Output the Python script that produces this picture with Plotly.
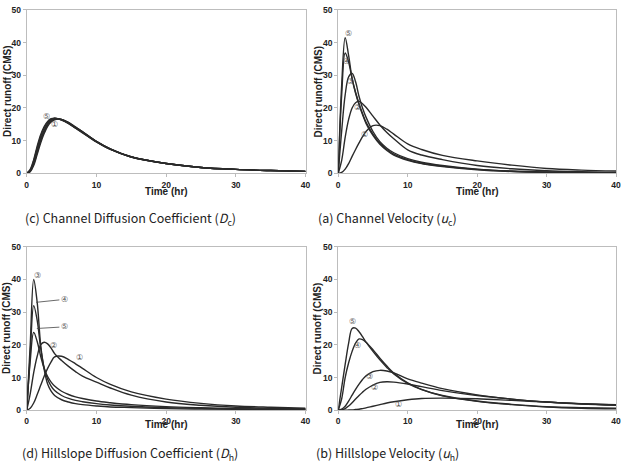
import plotly.graph_objects as go

time_hr = [0, 0.5, 1, 1.5, 2, 2.5, 3, 3.5, 4, 5, 6, 7, 8, 10, 12, 15, 20, 25, 30, 35, 40]

# (c) Channel Diffusion Coefficient
c_1 = [0, 0.5, 2.4, 5.8, 9.3, 12.2, 14.4, 15.7, 16.4, 16.5, 15.6, 14.2, 12.8, 9.8, 7.5, 5.1, 3.0, 1.8, 1.2, 0.85, 0.6]
c_2 = [0, 0.6, 2.8, 6.4, 9.9, 12.7, 14.8, 16.0, 16.6, 16.5, 15.5, 14.1, 12.7, 9.8, 7.5, 5.0, 3.0, 1.8, 1.2, 0.85, 0.6]
c_3 = [0, 0.8, 3.2, 7.0, 10.5, 13.2, 15.2, 16.3, 16.8, 16.4, 15.4, 14.0, 12.6, 9.7, 7.4, 5.0, 3.0, 1.8, 1.2, 0.85, 0.6]
c_4 = [0, 1.0, 3.8, 7.8, 11.3, 13.9, 15.6, 16.5, 16.9, 16.4, 15.3, 13.9, 12.5, 9.6, 7.3, 5.0, 3.0, 1.8, 1.2, 0.85, 0.6]
c_5 = [0, 1.2, 4.2, 8.3, 11.8, 14.3, 15.9, 16.7, 16.9, 16.3, 15.2, 13.8, 12.4, 9.6, 7.3, 5.0, 3.0, 1.8, 1.2, 0.85, 0.6]

# (a) Channel Velocity
a_1 = [0, 0.3, 1.3, 3.0, 5.2, 7.3, 9.3, 11.2, 12.8, 14.6, 14.6, 13.5, 12.0, 9.0, 7.3, 5.5, 3.8, 2.5, 1.5, 1.0, 0.7]
a_2 = [0, 4.0, 11.0, 16.5, 20.0, 21.6, 22.0, 21.3, 20.2, 17.5, 14.8, 12.5, 10.6, 7.2, 5.6, 4.2, 2.4, 1.4, 0.8, 0.5, 0.3]
a_3 = [0, 13.0, 24.0, 29.5, 30.6, 28.0, 23.5, 20.0, 17.2, 12.8, 9.7, 7.7, 6.3, 4.5, 3.4, 2.4, 1.3, 0.7, 0.4, 0.25, 0.15]
a_4 = [0, 24.0, 36.8, 34.0, 29.0, 24.8, 21.3, 18.3, 15.7, 12.0, 9.2, 7.3, 5.9, 4.2, 3.1, 2.2, 1.2, 0.6, 0.35, 0.2, 0.1]
a_5 = [0, 27.0, 41.5, 36.0, 29.0, 24.5, 21.0, 18.0, 15.3, 11.6, 8.9, 7.0, 5.6, 4.0, 3.0, 2.1, 1.1, 0.55, 0.3, 0.2, 0.1]

# (d) Hillslope Diffusion Coefficient
d_1 = [0, 0.6, 2.2, 4.8, 7.6, 10.4, 12.8, 14.8, 16.3, 16.5, 15.5, 14.2, 12.8, 10.0, 7.9, 5.6, 3.4, 2.1, 1.3, 0.9, 0.6]
d_2 = [0, 5.0, 11.5, 16.5, 20.0, 20.8, 20.3, 19.0, 17.3, 15.2, 13.4, 11.8, 10.4, 8.6, 6.8, 4.6, 2.5, 1.5, 0.9, 0.6, 0.4]
d_3 = [0, 20.0, 40.0, 33.0, 20.0, 12.5, 8.0, 5.8, 4.5, 3.2, 2.5, 2.0, 1.7, 1.3, 1.0, 0.8, 0.5, 0.35, 0.25, 0.2, 0.15]
d_4 = [0, 17.0, 32.0, 27.5, 19.0, 13.0, 9.5, 7.4, 6.0, 4.5, 3.6, 3.0, 2.6, 2.0, 1.6, 1.2, 0.8, 0.55, 0.4, 0.3, 0.25]
d_5 = [0, 15.0, 23.8, 21.0, 16.5, 12.8, 10.3, 8.6, 7.4, 5.8, 4.8, 4.1, 3.6, 2.8, 2.3, 1.7, 1.1, 0.75, 0.5, 0.35, 0.3]

# (b) Hillslope Velocity
b_1 = [0, 0, 0, 0.05, 0.1, 0.2, 0.3, 0.5, 0.7, 1.2, 1.7, 2.2, 2.6, 3.2, 3.6, 3.7, 3.5, 3.0, 2.5, 2.0, 1.7]
b_2 = [0, 0.1, 0.5, 1.3, 2.3, 3.4, 4.5, 5.5, 6.4, 7.7, 8.5, 8.7, 8.6, 8.0, 7.2, 6.0, 4.5, 3.4, 2.5, 1.9, 1.5]
b_3 = [0, 0.3, 1.2, 2.8, 4.6, 6.4, 8.0, 9.4, 10.5, 11.8, 12.2, 12.0, 11.4, 9.6, 8.3, 6.6, 4.7, 3.4, 2.5, 2.0, 1.6]
b_4 = [0, 3.5, 10.0, 14.5, 18.0, 20.5, 21.8, 21.6, 20.8, 18.5, 15.9, 13.5, 11.4, 8.4, 6.4, 4.5, 2.8, 1.8, 1.1, 0.8, 0.6]
b_5 = [0, 7.0, 14.0, 20.5, 25.0, 25.1, 24.0, 22.5, 20.8, 18.0, 15.4, 13.1, 11.1, 8.2, 6.3, 4.4, 2.7, 1.7, 1.0, 0.6, 0.4]

x_ticks = [0, 10, 20, 30, 40]
y_ticks = [0, 10, 20, 30, 40, 50]

panels = [
    ("x", "y", [c_1, c_2, c_3, c_4, c_5]),
    ("x2", "y2", [a_1, a_2, a_3, a_4, a_5]),
    ("x3", "y3", [d_1, d_2, d_3, d_4, d_5]),
    ("x4", "y4", [b_1, b_2, b_3, b_4, b_5]),
]

fig = go.Figure()
for xa, ya, series in panels:
    for s in series:
        fig.add_trace(go.Scatter(x=time_hr, y=s, xaxis=xa, yaxis=ya, mode="lines",
                                 line=dict(color="#2a2a2a", width=1.4, shape="spline", smoothing=1),
                                 showlegend=False, hoverinfo="skip"))

tick_font = dict(family="Liberation Sans, Arial, sans-serif", size=8.5, color="#222", weight="bold")
col_x = [[25 / 629, 307 / 629], [340 / 629, 621 / 629]]
row_y = [[1 - 172 / 471, 1 - 5 / 471], [1 - 414 / 471, 1 - 247 / 471]]

def axis_x(dom, anchor):
    return dict(domain=dom, anchor=anchor, range=[0, 40], tickvals=x_ticks, ticks="outside",
                ticklen=3, tickcolor="#bbb", showline=True, linecolor="#bdbdbd", linewidth=1,
                mirror=True, showgrid=False, zeroline=False, tickfont=tick_font)

def axis_y(dom, anchor):
    return dict(domain=dom, anchor=anchor, range=[0, 50], tickvals=y_ticks, ticks="outside",
                ticklen=3, tickcolor="#bbb", showline=True, linecolor="#bdbdbd", linewidth=1,
                mirror=True, showgrid=False, zeroline=False, tickfont=tick_font)

fig.update_layout(
    width=629, height=471, margin=dict(l=0, r=0, t=0, b=0),
    paper_bgcolor="white", plot_bgcolor="white",
    xaxis=axis_x(col_x[0], "y"), yaxis=axis_y(row_y[0], "x"),
    xaxis2=axis_x(col_x[1], "y2"), yaxis2=axis_y(row_y[0], "x2"),
    xaxis3=axis_x(col_x[0], "y3"), yaxis3=axis_y(row_y[1], "x3"),
    xaxis4=axis_x(col_x[1], "y4"), yaxis4=axis_y(row_y[1], "x4"),
)

title_font = dict(family="Liberation Sans, Arial, sans-serif", size=10, color="#222", weight="bold")
annotations = []
# axis titles
for (cx, cy_t) in [(col_x[0], 191), (col_x[1], 191), (col_x[0], 429), (col_x[1], 429)]:
    annotations.append(dict(text="Time (hr)", xref="paper", yref="paper", x=(cx[0] + cx[1]) / 2,
                            y=1 - cy_t / 471, showarrow=False, font=title_font,
                            xanchor="center", yanchor="middle"))
for (px, cy) in [(5, 88), (320, 88), (5, 330), (320, 330)]:
    annotations.append(dict(text="Direct runoff (CMS)", xref="paper", yref="paper", x=px / 629,
                            y=1 - cy / 471, showarrow=False, font=title_font, textangle=-90,
                            xanchor="center", yanchor="middle"))

cap_font = dict(family="Noto Sans CJK KR, sans-serif", size=12.5, color="#222")
captions = [
    ("(c) Channel Diffusion Coefficient (<i>D</i><sub>c</sub>)", 130, 218),
    ("(a) Channel Velocity (<i>u</i><sub>c</sub>)", 390, 218),
    ("(d) Hillslope Diffusion Coefficient (<i>D</i><sub>h</sub>)", 129, 458),
    ("(b) Hillslope Velocity (<i>u</i><sub>h</sub>)", 390, 458),
]
for txt, px, py in captions:
    annotations.append(dict(text=txt, xref="paper", yref="paper", x=px / 629, y=1 - py / 471,
                            showarrow=False, font=cap_font, xanchor="center", yanchor="middle"))

lab_font = dict(family="DejaVu Sans, sans-serif", size=8, color="#555")
labels = [
    ("x", "y", "⑤", 2.9, 17.4), ("x", "y", "①", 4.0, 14.9),
    ("x2", "y2", "⑤", 1.5, 42.8), ("x2", "y2", "④", 1.2, 34.3), ("x2", "y2", "③", 1.75, 28.2),
    ("x2", "y2", "②", 2.75, 20.2), ("x2", "y2", "①", 3.8, 11.9),
    ("x3", "y3", "③", 1.6, 41.2), ("x3", "y3", "②", 3.8, 19.8), ("x3", "y3", "①", 7.6, 16.0),
    ("x4", "y4", "⑤", 2.0, 27.0), ("x4", "y4", "④", 2.75, 19.8), ("x4", "y4", "③", 4.5, 10.4),
    ("x4", "y4", "②", 5.2, 7.0), ("x4", "y4", "①", 8.7, 1.7),
]
for xa, ya, t, lx, ly in labels:
    annotations.append(dict(text=t, xref=xa, yref=ya, x=lx, y=ly, showarrow=False, font=lab_font))

# leader-line labels in (d)
leaders = [("④", 1.35, 33.0, 5.4, 33.9), ("⑤", 1.45, 25.0, 5.4, 25.5)]
for t, px, py, lx, ly in leaders:
    annotations.append(dict(text=t, xref="x3", yref="y3", x=px, y=py, ax=lx, ay=ly,
                            axref="x3", ayref="y3", showarrow=True, arrowhead=0,
                            arrowwidth=0.8, arrowcolor="#444", font=lab_font))

fig.update_layout(annotations=annotations)
fig.write_html("out.html")
